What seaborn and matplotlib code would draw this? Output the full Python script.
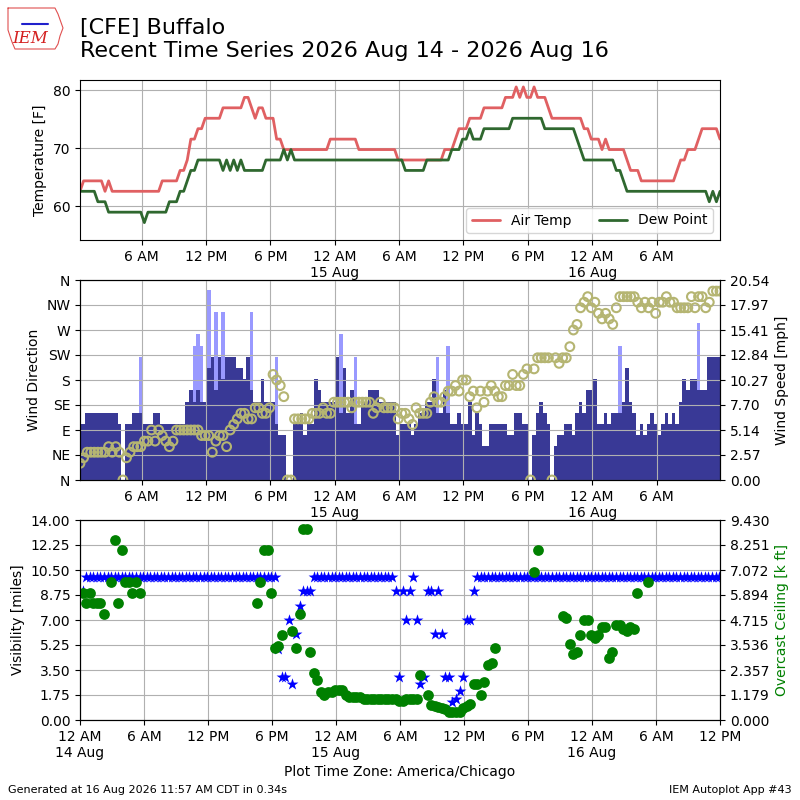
import datetime
import numpy as np
import pandas as pd
import matplotlib
matplotlib.use("Agg")
import matplotlib.pyplot as plt
import matplotlib.dates as mdates
from matplotlib.ticker import FuncFormatter, FormatStrFormatter
import seaborn as sns

nan = np.nan

# observations every 20 minutes, first one 14 Aug 00:15 CDT
obs_times = pd.date_range(datetime.datetime(2026, 8, 14, 0, 15), periods=180, freq="20min")

# air temperature and dew point [C], converted to F for plotting
tmpc = [
    17, 18, 18, 18, 18, 18, 18, 17, 18, 17, 17, 17, 17, 17, 17, 17, 17, 17, 17, 17,
    17, 17, 17, 18, 18, 18, 18, 18, 19, 19, 20, 22, 22, 23, 23, 24, 24, 24, 24, 24,
    25, 25, 25, 25, 25, 25, 26, 26, 25, 24, 25, 25, 24, 24, 24, 22, 22, 21, 21, 21,
    21, 21, 21, 21, 21, 21, 21, 21, 21, 21, 22, 22, 22, 22, 22, 22, 22, 22, 21, 21,
    21, 21, 21, 21, 21, 21, 21, 21, 21, 20, 20, 20, 20, 20, 20, 20, 20, 20, 20, 20,
    20, 20, 21, 21, 21, 22, 23, 23, 23, 24, 24, 24, 24, 25, 25, 25, 25, 25, 25, 26,
    26, 26, 27, 26, 27, 26, 26, 27, 26, 26, 26, 25, 24, 24, 24, 24, 24, 24, 24, 24,
    24, 23, 23, 22, 22, 22, 21, 22, 21, 21, 21, 21, 21, 20, 19, 19, 19, 18, 18, 18,
    18, 18, 18, 18, 18, 18, 18, 19, 20, 20, 21, 21, 21, 22, 23, 23, 23, 23, 23, 22,
]
dwpc = [
    17, 17, 17, 17, 17, 16, 16, 16, 15, 15, 15, 15, 15, 15, 15, 15, 15, 15, 14, 15,
    15, 15, 15, 15, 15, 16, 16, 16, 17, 17, 18, 19, 19, 20, 20, 20, 20, 20, 20, 20,
    19, 20, 19, 20, 19, 20, 19, 19, 19, 19, 19, 19, 20, 20, 20, 20, 20, 21, 20, 21,
    20, 20, 20, 20, 20, 20, 20, 20, 20, 20, 20, 20, 20, 20, 20, 20, 20, 20, 20, 20,
    20, 20, 20, 20, 20, 20, 20, 20, 20, 20, 20, 19, 19, 19, 19, 19, 19, 20, 20, 20,
    20, 20, 20, 20, 21, 21, 21, 22, 22, 23, 22, 22, 22, 23, 23, 23, 23, 23, 23, 23,
    23, 24, 24, 24, 24, 24, 24, 24, 24, 24, 23, 23, 23, 23, 23, 23, 23, 23, 23, 22,
    21, 20, 20, 20, 20, 20, 20, 20, 20, 20, 19, 19, 18, 17, 17, 17, 17, 17, 17, 17,
    17, 17, 17, 17, 17, 17, 17, 17, 17, 17, 17, 17, 17, 17, 17, 17, 16, 17, 16, 17,
]

# wind speed [kt], direction [deg], gusts [kt]
sknt = [
    5, 5, 6, 6, 6, 6, 6, 6, 6, 6, 6, 5, 0, 5, 5, 6, 6, 6, 5, 5,
    5, 6, 6, 5, 5, 5, 5, 5, 5, 5, 7, 8, 7, 8, 7, 7, 10, 11, 8, 11,
    9, 11, 11, 11, 10, 10, 9, 11, 8, 7, 7, 9, 7, 7, 7, 5, 4, 4, 0, 0,
    5, 5, 6, 4, 5, 5, 9, 8, 7, 7, 7, 7, 11, 6, 10, 6, 8, 5, 5, 7,
    7, 8, 8, 8, 7, 7, 7, 7, 7, 4, 5, 5, 5, 4, 5, 6, 6, 7, 7, 9,
    6, 6, 8, 6, 5, 5, 6, 5, 5, 7, 4, 6, 5, 3, 3, 5, 5, 5, 5, 5,
    4, 4, 6, 6, 5, 5, 0, 4, 6, 7, 6, 5, 0, 3, 4, 4, 5, 5, 4, 6,
    7, 6, 8, 8, 9, 5, 5, 6, 5, 6, 6, 6, 7, 10, 7, 6, 4, 5, 4, 5,
    6, 5, 4, 5, 6, 5, 6, 5, 7, 9, 8, 9, 9, 8, 8, 8, 11, 11, 11, 11,
]
drct = [
    30, 40, 50, 50, 50, 50, 50, 50, 60, 50, 60, 50, 0, 40, 50, 60, 60, 60, 70, 70,
    90, 70, 90, 80, 70, 60, 70, 90, 90, 90, 90, 90, 90, 90, 80, 80, 80, 50, 70, 80,
    80, 60, 90, 100, 110, 120, 120, 110, 110, 130, 130, 120, 120, 130, 190, 180, 170, 150, 0, 0,
    110, 110, 110, 110, 110, 120, 120, 120, 130, 120, 120, 140, 140, 140, 140, 140, 130, 140, 140, 140,
    140, 140, 120, 130, 140, 130, 130, 130, 130, 110, 120, 120, 110, 100, 130, 120, 120, 120, 140, 150,
    140, 140, 150, 160, 160, 170, 160, 180, 180, 150, 160, 130, 160, 140, 160, 170, 160, 150, 150, 170,
    170, 190, 170, 170, 190, 200, 0, 200, 220, 220, 220, 220, 0, 220, 210, 220, 220, 240, 270, 280,
    310, 320, 330, 310, 320, 300, 290, 300, 290, 280, 310, 330, 330, 330, 330, 330, 320, 310, 320, 310,
    320, 300, 320, 320, 330, 320, 320, 310, 310, 310, 310, 330, 310, 330, 330, 310, 320, 340, 340, 340,
]
gust_obs = [17, 32, 33, 34, 36, 38, 40, 48, 55, 73, 77, 100, 103, 151, 173]
gust_kt = [11, 12, 13, 12, 17, 15, 15, 15, 11, 13, 11, 11, 12, 12, 14]

# visibility [miles] and overcast ceiling [k ft]
vsby = [
    9, 10, 10, 10, 10, 10, 10, 10, 10, 10, 10, 10, 10, 10, 10, 10, 10, 10, 10, 10,
    10, 10, 10, 10, 10, 10, 10, 10, 10, 10, 10, 10, 10, 10, 10, 10, 10, 10, 10, 10,
    10, 10, 10, 10, 10, 10, 10, 10, 10, 10, 10, 10, 10, 10, 10, 5, 3, 3, 7, 2.5,
    6, 8, 9, 9, 9, 10, 10, 10, 10, 10, 10, 10, 10, 10, 10, 10, 10, 10, 10, 10,
    10, 10, 10, 10, 10, 10, 10, 10, 9, 3, 9, 7, 9, 10, 7, 2.5, 3, 9, 9, 6,
    9, 6, 3, 3, 1.25, 1.5, 2, 3, 7, 7, 9, 10, 10, 10, 10, 10, 10, 10, 10, 10,
    10, 10, 10, 10, 10, 10, 10, 10, 10, 10, 10, 10, 10, 10, 10, 10, 10, 10, 10, 10,
    10, 10, 10, 10, 10, 10, 10, 10, 10, 10, 10, 10, 10, 10, 10, 10, 10, 10, 10, 10,
    10, 10, 10, 10, 10, 10, 10, 10, 10, 10, 10, 10, 10, 10, 10, 10, 10, 10, 10, 10,
]
ceil_kft = [
    6.0, 5.5, 6.0, 5.5, 5.5, 5.5, 5.0, nan, 6.5, 8.5, 5.5, 8.0, 6.5, 6.5, 6.0, 6.5, 6.0, nan, nan, nan,
    nan, nan, nan, nan, nan, nan, nan, nan, nan, nan, nan, nan, nan, nan, nan, nan, nan, nan, nan, nan,
    nan, nan, nan, nan, nan, nan, nan, nan, nan, 5.5, 6.5, 8.0, 8.0, 6.0, 3.4, 3.5, 4.0, nan, nan, 4.2,
    3.4, 5.0, 9.0, 9.0, 3.2, 2.2, 1.9, 1.3, 1.2, 1.3, 1.3, 1.4, 1.4, 1.4, 1.2, 1.1, 1.1, 1.1, 1.1, 1.0,
    1.0, 1.0, 1.0, 1.0, 1.0, 1.0, 1.0, 1.0, 1.0, 0.9, 0.9, 1.0, 1.0, 1.0, 1.0, 2.1, nan, 1.2, 0.7, 0.65,
    0.6, 0.55, 0.5, 0.4, 0.4, 0.4, 0.4, 0.55, 0.65, 0.75, 1.7, 1.7, 1.2, 1.8, 2.6, 2.7, 3.4, nan, nan, nan,
    nan, nan, nan, nan, nan, nan, nan, 7.0, 8.0, nan, nan, nan, nan, nan, nan, 4.9, 4.8, 3.6, 3.1, 3.2,
    4.0, 4.7, 4.7, 4.0, 3.85, 4.0, 4.4, 4.4, 2.9, 3.2, 4.5, 4.5, 4.3, 4.2, 4.4, 4.3, 6.0, nan, nan, 6.5,
    nan, nan, nan, nan, nan, nan, nan, nan, nan, nan, nan, nan, nan, nan, nan, nan, nan, nan, nan, nan,
]

df = pd.DataFrame({"valid": obs_times, "tmpc": tmpc, "dwpc": dwpc, "sknt": sknt,
                   "drct": drct, "vsby": vsby, "ceil": ceil_kft})
df["tmpf"] = df["tmpc"] * 9 / 5 + 32
df["dwpf"] = df["dwpc"] * 9 / 5 + 32
df["smph"] = df["sknt"] * 1.15078
gusts = df.iloc[gust_obs][["valid"]].copy()
gusts["gmph"] = np.array(gust_kt) * 1.15078

sns.set_style("ticks")
plt.rcParams["font.family"] = ["DejaVu Sans"]
plt.rcParams.update({"text.color": "black", "axes.labelcolor": "black",
                     "xtick.color": "black", "ytick.color": "black",
                     "axes.edgecolor": "black"})


def timefmt(x, pos):
    dt = mdates.num2date(x)
    if dt.hour == 0:
        return f"12 AM\n{dt.day} Aug"
    if dt.hour == 12:
        return "12 PM"
    if dt.hour < 12:
        return f"{dt.hour} AM"
    return f"{dt.hour - 12} PM"


def time_axis(ax):
    ax.xaxis.set_major_locator(mdates.HourLocator(byhour=[0, 6, 12, 18]))
    ax.xaxis.set_major_formatter(FuncFormatter(timefmt))


fig = plt.figure(figsize=(8, 8), dpi=100)
bar_w = 20.0 / 1440.0
t0, t1 = df["valid"].iloc[0], df["valid"].iloc[-1]

# Panel 1: temperature / dew point
ax = fig.add_axes([0.1, 0.7, 0.8, 0.2])
sns.lineplot(data=df, x="valid", y="tmpf", ax=ax, color="#e06062", lw=2, label="Air Temp")
sns.lineplot(data=df, x="valid", y="dwpf", ax=ax, color="#2f682f", lw=2, label="Dew Point")
ax.set_xlim(t0, t1)
ax.set_ylim(54.2, 81.8)
ax.set_yticks([60, 70, 80])
ax.set_ylabel("Temperature [F]")
ax.set_xlabel("")
ax.grid(True, color="#b0b0b0", lw=0.8)
ax.legend(loc="lower right", ncol=2, fontsize=10)
time_axis(ax)

# Panel 2: wind direction (circles) over wind speed / gust bars
ax1 = fig.add_axes([0.1, 0.4, 0.8, 0.25])
ax2 = ax1.twinx()
ax2.bar(gusts["valid"], gusts["gmph"], width=bar_w, color="#9999ff", linewidth=0)
ax2.bar(df["valid"], df["smph"], width=bar_w, color="#393996", linewidth=0)
ax2.set_ylim(0, 20.541)
ax2.set_yticks(np.linspace(0, 20.541, 9))
ax2.yaxis.set_major_formatter(FormatStrFormatter("%.2f"))
ax2.set_ylabel("Wind Speed [mph]")
sns.scatterplot(data=df, x="valid", y="drct", ax=ax1, marker="o", s=40,
                facecolor="none", edgecolor="#b5b572", linewidth=1.5, legend=False)
ax1.set_zorder(ax2.get_zorder() + 1)
ax1.patch.set_visible(False)
ax1.set_ylim(0, 360)
ax1.set_yticks(range(0, 361, 45))
ax1.set_yticklabels(["N", "NE", "E", "SE", "S", "SW", "W", "NW", "N"])
ax1.set_ylabel("Wind Direction")
ax1.set_xlabel("")
ax1.set_xlim(t0, t1)
ax1.grid(True, color="#b0b0b0", lw=0.8)
time_axis(ax1)

# Panel 3: visibility and ceiling
ax3 = fig.add_axes([0.1, 0.1, 0.8, 0.25])
ax4 = ax3.twinx()
sns.scatterplot(data=df, x="valid", y="vsby", ax=ax3, marker="*", s=80,
                color="b", linewidth=0, legend=False)
ax3.set_ylim(0, 14)
ax3.set_yticks(np.linspace(0, 14, 9))
ax3.yaxis.set_major_formatter(FormatStrFormatter("%.2f"))
ax3.set_ylabel("Visibility [miles]")
ax3.set_xlabel("Plot Time Zone: America/Chicago")
ax3.grid(True, color="#b0b0b0", lw=0.8)
sns.scatterplot(data=df, x="valid", y="ceil", ax=ax4, marker="o", s=60,
                color="g", linewidth=0, legend=False)
ax4.set_ylim(0, 9.43)
ax4.set_yticks(np.linspace(0, 9.43, 9))
ax4.yaxis.set_major_formatter(FormatStrFormatter("%.3f"))
ax4.set_ylabel("Overcast Ceiling [k ft]", color="g")
ax3.set_xlim(datetime.datetime(2026, 8, 14, 0, 0), datetime.datetime(2026, 8, 16, 12, 0))
time_axis(ax3)

# title and rough IEM logo
fig.text(0.1, 0.978, "[CFE] Buffalo\nRecent Time Series 2026 Aug 14 - 2026 Aug 16",
         fontsize=16, va="top")
logo_x = [8, 55, 58, 63, 60, 58, 55, 15, 12, 8, 8]
logo_y = [8, 8, 14, 28, 36, 44, 49, 49, 42, 30, 8]
fig.add_artist(plt.Line2D([x / 800 for x in logo_x], [1 - y / 800 for y in logo_y],
                          color="#e05050", lw=0.8, transform=fig.transFigure))
fig.add_artist(plt.Line2D([22 / 800, 48 / 800], [1 - 24 / 800, 1 - 24 / 800],
                          color="#2020cc", lw=1.5, transform=fig.transFigure))
fig.text(0.0375, 0.952, "IEM", fontsize=12, color="#d42020", style="italic",
         family="DejaVu Serif", ha="center", va="center")
fig.text(0.01, 0.012, "Generated at 16 Aug 2026 11:57 AM CDT in 0.34s", fontsize=8, va="center")
fig.text(0.99, 0.012, "IEM Autoplot App #43", fontsize=8, ha="right", va="center")

fig.savefig("out.png", dpi=100)
